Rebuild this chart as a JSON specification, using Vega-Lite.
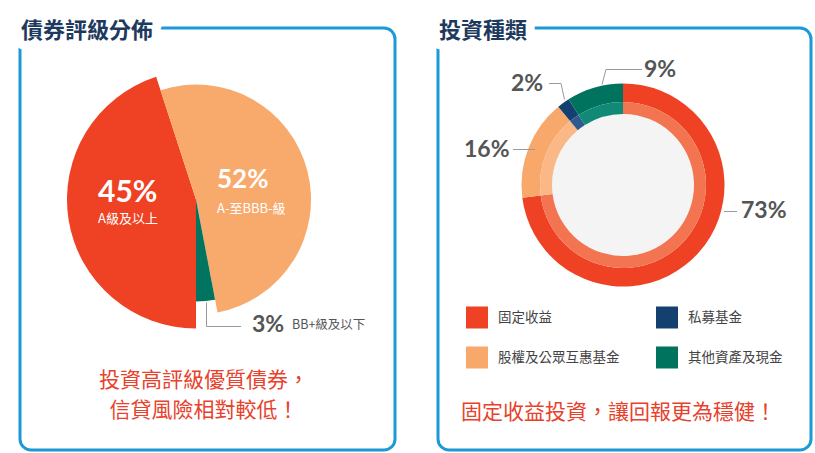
{
  "$schema": "https://vega.github.io/schema/vega-lite/v6.json",
  "padding": {"left": 18, "top": 19, "right": 0, "bottom": 0},
  "spacing": 43,
  "bounds": "flush",
  "config": {"view": {"stroke": null}, "font": "Noto Sans CJK TC"},
  "datasets": {
    "panels": [
      {"panel": "債券評級分佈", "caption": "投資高評級優質債券，\n信貸風險相對較低！"},
      {"panel": "投資種類", "caption": "固定收益投資，讓回報更為穩健！"}
    ],
    "bonds": [
      {"rating": "A級及以上", "share": 0.45, "order": 1},
      {"rating": "A-至BBB-級", "share": 0.52, "order": 2},
      {"rating": "BB+級及以下", "share": 0.03, "order": 3}
    ],
    "assets": [
      {"type": "固定收益", "share": 0.73, "order": 1},
      {"type": "股權及公眾互惠基金", "share": 0.16, "order": 2},
      {"type": "私募基金", "share": 0.02, "order": 3},
      {"type": "其他資產及現金", "share": 0.09, "order": 4}
    ]
  },
  "resolve": {"scale": {"color": "independent", "theta": "independent"}, "legend": {"color": "independent"}},
  "hconcat": [
    {
      "width": 375,
      "height": 422,
      "layer": [
        {"data": {"name": "panels"}, "transform": [{"filter": "datum.panel === '債券評級分佈'"}],
         "mark": {"type": "rect", "filled": false, "stroke": "#1B9AD6", "strokeWidth": 3, "cornerRadius": 11},
         "encoding": {}},
        {"data": {"name": "panels"}, "transform": [{"filter": "datum.panel === '債券評級分佈'"}],
         "mark": {"type": "text", "x": 1, "y": 2.5, "align": "left", "baseline": "middle", "fontSize": 22, "fontWeight": "bold", "fill": "white", "stroke": "white", "strokeWidth": 18, "strokeJoin": "round"},
         "encoding": {"text": {"field": "panel"}}},
        {"data": {"name": "panels"}, "transform": [{"filter": "datum.panel === '債券評級分佈'"}],
         "mark": {"type": "text", "x": 1, "y": 2.5, "align": "left", "baseline": "middle", "fontSize": 22, "fontWeight": "bold", "fill": "#1D3A5E"},
         "encoding": {"text": {"field": "panel"}}},
        {"data": {"name": "bonds"},
         "transform": [{"stack": "share", "groupby": [], "sort": [{"field": "order", "order": "ascending"}], "as": ["v0", "v1"]}, {"filter": "datum.order === 1"}],
         "mark": {"type": "arc", "radius": 129, "x": 176, "y": 171.5},
         "encoding": {
           "theta": {"field": "v0", "type": "quantitative", "scale": {"domain": [0, 1], "range": [3.14159265, 9.42477796]}},
           "theta2": {"field": "v1"},
           "color": {"field": "rating", "type": "nominal", "scale": {"domain": ["A級及以上", "A-至BBB-級", "BB+級及以下"], "range": ["#EF4123", "#F8A96C", "#00745F"]}, "legend": null}
         }},
        {"data": {"name": "bonds"},
         "transform": [{"stack": "share", "groupby": [], "sort": [{"field": "order", "order": "ascending"}], "as": ["v0", "v1"]}, {"filter": "datum.order === 2"}],
         "mark": {"type": "arc", "radius": 115, "x": 176, "y": 171.5},
         "encoding": {
           "theta": {"field": "v0", "type": "quantitative", "scale": {"domain": [0, 1], "range": [3.14159265, 9.42477796]}},
           "theta2": {"field": "v1"},
           "color": {"field": "rating", "type": "nominal", "scale": {"domain": ["A級及以上", "A-至BBB-級", "BB+級及以下"], "range": ["#EF4123", "#F8A96C", "#00745F"]}, "legend": null}
         }},
        {"data": {"name": "bonds"},
         "transform": [{"stack": "share", "groupby": [], "sort": [{"field": "order", "order": "ascending"}], "as": ["v0", "v1"]}, {"filter": "datum.order === 3"}],
         "mark": {"type": "arc", "radius": 102, "x": 176, "y": 171.5},
         "encoding": {
           "theta": {"field": "v0", "type": "quantitative", "scale": {"domain": [0, 1], "range": [3.14159265, 9.42477796]}},
           "theta2": {"field": "v1"},
           "color": {"field": "rating", "type": "nominal", "scale": {"domain": ["A級及以上", "A-至BBB-級", "BB+級及以下"], "range": ["#EF4123", "#F8A96C", "#00745F"]}, "legend": null}
         }},
        {"data": {"name": "bonds"}, "transform": [{"filter": "datum.order === 1"}],
         "mark": {"type": "text", "x": 78, "y": 173.5, "align": "left", "baseline": "alphabetic", "fontSize": 30, "fontWeight": "bold", "font": "Lato", "fill": "white"},
         "encoding": {"text": {"field": "share", "type": "quantitative", "format": ".0%"}}},
        {"data": {"name": "bonds"}, "transform": [{"filter": "datum.order === 1"}],
         "mark": {"type": "text", "x": 78, "y": 191, "align": "left", "baseline": "middle", "fontSize": 13, "fill": "white"},
         "encoding": {"text": {"field": "rating"}}},
        {"data": {"name": "bonds"}, "transform": [{"filter": "datum.order === 2"}],
         "mark": {"type": "text", "x": 197, "y": 160, "align": "left", "baseline": "alphabetic", "fontSize": 26, "fontWeight": "bold", "font": "Lato", "fill": "white"},
         "encoding": {"text": {"field": "share", "type": "quantitative", "format": ".0%"}}},
        {"data": {"name": "bonds"}, "transform": [{"filter": "datum.order === 2"}],
         "mark": {"type": "text", "x": 197, "y": 181, "align": "left", "baseline": "middle", "fontSize": 13, "fill": "white"},
         "encoding": {"text": {"field": "rating"}}},
        {"data": {"name": "bonds"}, "transform": [{"filter": "datum.order === 3"}],
         "mark": {"type": "rule", "stroke": "#9A9A9A", "strokeWidth": 1},
         "encoding": {"x": {"value": 186.5}, "y": {"value": 274.5}, "x2": {"value": 186.5}, "y2": {"value": 298.5}}},
        {"data": {"name": "bonds"}, "transform": [{"filter": "datum.order === 3"}],
         "mark": {"type": "rule", "stroke": "#9A9A9A", "strokeWidth": 1},
         "encoding": {"x": {"value": 186.5}, "y": {"value": 298.5}, "x2": {"value": 221}, "y2": {"value": 298.5}}},
        {"data": {"name": "bonds"}, "transform": [{"filter": "datum.order === 3"}],
         "mark": {"type": "text", "x": 232, "y": 303.5, "align": "left", "baseline": "alphabetic", "fontSize": 23, "fontWeight": "bold", "font": "Lato", "fill": "#555555"},
         "encoding": {"text": {"field": "share", "type": "quantitative", "format": ".0%"}}},
        {"data": {"name": "bonds"}, "transform": [{"filter": "datum.order === 3"}],
         "mark": {"type": "text", "x": 272, "y": 296.5, "align": "left", "baseline": "middle", "fontSize": 12.5, "fill": "#555555"},
         "encoding": {"text": {"field": "rating"}}},
        {"data": {"name": "panels"}, "transform": [{"filter": "datum.panel === '債券評級分佈'"}],
         "mark": {"type": "text", "x": 184, "y": 353, "align": "center", "baseline": "middle", "fontSize": 21, "fill": "#E8412C", "lineBreak": "\n", "lineHeight": 30},
         "encoding": {"text": {"field": "caption"}}}
      ]
    },
    {
      "width": 373,
      "height": 422,
      "layer": [
        {"data": {"name": "panels"}, "transform": [{"filter": "datum.panel === '投資種類'"}],
         "mark": {"type": "rect", "filled": false, "stroke": "#1B9AD6", "strokeWidth": 3, "cornerRadius": 11},
         "encoding": {}},
        {"data": {"name": "panels"}, "transform": [{"filter": "datum.panel === '投資種類'"}],
         "mark": {"type": "text", "x": 1, "y": 2.5, "align": "left", "baseline": "middle", "fontSize": 22, "fontWeight": "bold", "fill": "white", "stroke": "white", "strokeWidth": 18, "strokeJoin": "round"},
         "encoding": {"text": {"field": "panel"}}},
        {"data": {"name": "panels"}, "transform": [{"filter": "datum.panel === '投資種類'"}],
         "mark": {"type": "text", "x": 1, "y": 2.5, "align": "left", "baseline": "middle", "fontSize": 22, "fontWeight": "bold", "fill": "#1D3A5E"},
         "encoding": {"text": {"field": "panel"}}},
        {"data": {"name": "panels"}, "transform": [{"filter": "datum.panel === '投資種類'"}],
         "mark": {"type": "arc", "radius": 71, "x": 185, "y": 157, "theta": 0, "theta2": 6.2832, "fill": "#F4F4F4"},
         "encoding": {}},
        {"data": {"name": "assets"},
         "mark": {"type": "arc", "radius": 101.5, "radius2": 83, "x": 185, "y": 157},
         "encoding": {
           "theta": {"field": "share", "type": "quantitative", "stack": true, "scale": {"domain": [0, 1]}},
           "order": {"field": "order", "type": "quantitative"},
           "color": {"field": "type", "type": "nominal",
             "scale": {"domain": ["固定收益", "私募基金", "股權及公眾互惠基金", "其他資產及現金"], "range": ["#EF4123", "#13406F", "#F8A86B", "#00735F"]},
             "legend": {"title": null, "orient": "none", "legendX": 28, "legendY": 278.5, "direction": "horizontal", "columns": 2, "columnPadding": 36, "rowPadding": 18, "symbolType": "square", "symbolSize": 484, "symbolStrokeWidth": 0, "symbolOpacity": 1, "labelFontSize": 13.5, "labelColor": "#444444", "labelOffset": 10, "labelFont": "Noto Sans CJK TC", "padding": 0}}
         }},
        {"data": {"name": "assets"},
         "mark": {"type": "arc", "radius": 83, "radius2": 71, "x": 185, "y": 157},
         "encoding": {
           "theta": {"field": "share", "type": "quantitative", "stack": true, "scale": {"domain": [0, 1]}},
           "order": {"field": "order", "type": "quantitative"},
           "fill": {"field": "type", "type": "nominal",
             "scale": {"domain": ["固定收益", "私募基金", "股權及公眾互惠基金", "其他資產及現金"], "range": ["#F37450", "#2F5A8E", "#F9B886", "#108A77"]},
             "legend": null}
         }},
        {"data": {"name": "assets"}, "transform": [{"filter": "datum.order === 1"}],
         "mark": {"type": "rule", "stroke": "#9A9A9A", "strokeWidth": 1},
         "encoding": {"x": {"value": 286}, "y": {"value": 183.5}, "x2": {"value": 299}, "y2": {"value": 183.5}}},
        {"data": {"name": "assets"}, "transform": [{"filter": "datum.order === 2"}],
         "mark": {"type": "rule", "stroke": "#9A9A9A", "strokeWidth": 1},
         "encoding": {"x": {"value": 75}, "y": {"value": 121.5}, "x2": {"value": 97}, "y2": {"value": 121.5}}},
        {"data": {"name": "assets"}, "transform": [{"filter": "datum.order === 3"}],
         "mark": {"type": "rule", "stroke": "#9A9A9A", "strokeWidth": 1},
         "encoding": {"x": {"value": 111}, "y": {"value": 55.5}, "x2": {"value": 123}, "y2": {"value": 55.5}}},
        {"data": {"name": "assets"}, "transform": [{"filter": "datum.order === 3"}],
         "mark": {"type": "rule", "stroke": "#9A9A9A", "strokeWidth": 1},
         "encoding": {"x": {"value": 123}, "y": {"value": 55.5}, "x2": {"value": 126.5}, "y2": {"value": 71.5}}},
        {"data": {"name": "assets"}, "transform": [{"filter": "datum.order === 4"}],
         "mark": {"type": "rule", "stroke": "#9A9A9A", "strokeWidth": 1},
         "encoding": {"x": {"value": 168}, "y": {"value": 41.5}, "x2": {"value": 204}, "y2": {"value": 41.5}}},
        {"data": {"name": "assets"}, "transform": [{"filter": "datum.order === 4"}],
         "mark": {"type": "rule", "stroke": "#9A9A9A", "strokeWidth": 1},
         "encoding": {"x": {"value": 168}, "y": {"value": 41.5}, "x2": {"value": 164}, "y2": {"value": 56.5}}},
        {"data": {"name": "assets"}, "transform": [{"filter": "datum.order === 1"}],
         "mark": {"type": "text", "x": 303, "y": 190, "align": "left", "baseline": "alphabetic", "fontSize": 23, "fontWeight": "bold", "font": "Lato", "fill": "#555555"},
         "encoding": {"text": {"field": "share", "type": "quantitative", "format": ".0%"}}},
        {"data": {"name": "assets"}, "transform": [{"filter": "datum.order === 2"}],
         "mark": {"type": "text", "x": 26, "y": 128.5, "align": "left", "baseline": "alphabetic", "fontSize": 23, "fontWeight": "bold", "font": "Lato", "fill": "#555555"},
         "encoding": {"text": {"field": "share", "type": "quantitative", "format": ".0%"}}},
        {"data": {"name": "assets"}, "transform": [{"filter": "datum.order === 3"}],
         "mark": {"type": "text", "x": 73, "y": 62.5, "align": "left", "baseline": "alphabetic", "fontSize": 23, "fontWeight": "bold", "font": "Lato", "fill": "#555555"},
         "encoding": {"text": {"field": "share", "type": "quantitative", "format": ".0%"}}},
        {"data": {"name": "assets"}, "transform": [{"filter": "datum.order === 4"}],
         "mark": {"type": "text", "x": 206, "y": 48.5, "align": "left", "baseline": "alphabetic", "fontSize": 23, "fontWeight": "bold", "font": "Lato", "fill": "#555555"},
         "encoding": {"text": {"field": "share", "type": "quantitative", "format": ".0%"}}},
        {"data": {"name": "panels"}, "transform": [{"filter": "datum.panel === '投資種類'"}],
         "mark": {"type": "text", "x": 180.5, "y": 385, "align": "center", "baseline": "middle", "fontSize": 21, "fill": "#E8412C"},
         "encoding": {"text": {"field": "caption"}}}
      ]
    }
  ]
}
